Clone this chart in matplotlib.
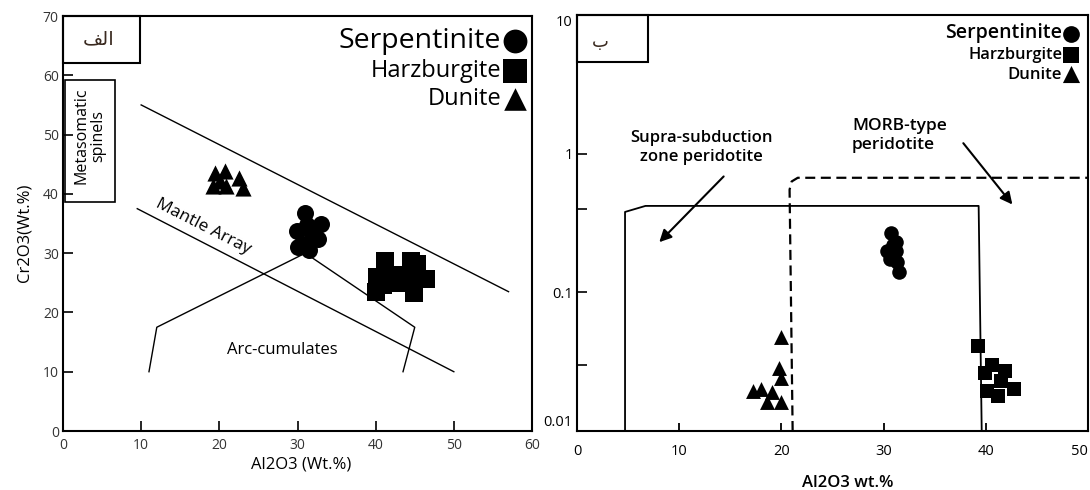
import matplotlib
matplotlib.use("Agg")
import matplotlib.pyplot as plt
from matplotlib.patches import Rectangle
import matplotlib.transforms as mtransforms

# ---------------- Panel الف : Cr2O3 vs Al2O3 (linear) ----------------
a_serp_al = [31.0, 33.0, 29.9, 31.9, 30.6, 31.5, 30.1, 32.6, 31.2]
a_serp_cr = [36.7, 35.0, 33.8, 33.2, 31.5, 30.5, 31.0, 32.4, 34.8]
a_harz_al = [41.2, 44.5, 45.3, 40.2, 42.2, 44.2, 46.4, 40.1, 44.9, 41.0, 43.0]
a_harz_cr = [28.6, 28.6, 28.2, 26.0, 26.3, 26.0, 25.6, 23.5, 23.3, 24.6, 25.0]
a_dun_al = [19.4, 20.7, 22.5, 19.2, 20.8, 23.0, 20.1]
a_dun_cr = [43.6, 43.9, 42.7, 41.3, 41.3, 41.0, 42.1]

mantle_upper_al = [10.0, 57.0]
mantle_upper_cr = [55.0, 23.5]
mantle_lower_al = [9.5, 50.0]
mantle_lower_cr = [37.5, 10.0]
arc_al = [11.0, 12.0, 31.0, 45.0, 43.5]
arc_cr = [10.0, 17.5, 30.0, 17.5, 10.0]
meta_al = [0.3, 6.6]
meta_cr = [38.7, 59.2]

a_xticks = [0, 10, 20, 30, 40, 50, 60]
a_yticks = [0, 10, 20, 30, 40, 50, 60, 70]

# ---------------- Panel ب : Cr2O3 (log) vs Al2O3 ----------------
b_serp_al = [30.7, 31.2, 30.3, 31.2, 30.6, 31.3, 31.5, 30.9]
b_serp_cr = [0.27, 0.23, 0.20, 0.20, 0.175, 0.165, 0.14, 0.22]
b_harz_al = [39.2, 40.6, 39.9, 41.9, 42.8, 41.2, 40.1, 41.5]
b_harz_cr = [0.041, 0.030, 0.026, 0.027, 0.020, 0.0178, 0.0193, 0.023]
b_dun_al = [20.0, 19.8, 20.0, 17.2, 18.0, 18.6, 20.0, 19.1]
b_dun_cr = [0.0475, 0.0286, 0.024, 0.0193, 0.020, 0.0163, 0.0163, 0.019]

ssz_al = [4.7, 4.7, 6.7, 39.3, 39.6]
ssz_cr = [0.01, 0.38, 0.42, 0.42, 0.01]
morb_al = [21.1, 20.8, 21.0, 21.6, 50.0]
morb_cr = [0.01, 0.55, 0.63, 0.67, 0.67]

b_xticks = [0, 10, 20, 30, 40, 50]
b_xticklabels = ["0", "10", "20", "30", "40", "50"]
b_yticks = [0.01, 0.1, 1, 10]
b_yticklabels = ["0.01", "0.1", "1", "10"]
b_yminor = [0.03, 0.4]

series_names = ["Serpentinite", "Harzburgite", "Dunite"]

plt.rcParams["font.family"] = ["Open Sans", "DejaVu Sans"]
fig = plt.figure(figsize=(10.9, 4.9), dpi=100)

# ================= Left axes =================
ax1 = fig.add_axes([63 / 1090, 1 - 431 / 490, (532 - 63) / 1090, (431 - 16) / 490])
ax1.set_xlim(0, 60)
ax1.set_ylim(0, 70)
for s in ax1.spines.values():
    s.set_linewidth(1.5)
ax1.set_xticks(a_xticks)
ax1.set_yticks(a_yticks)
ax1.tick_params(axis="x", direction="in", length=7, width=1.2, labelsize=10,
                labelcolor="#333333", pad=5)
ax1.tick_params(axis="y", direction="in", length=7, width=1.2, labelsize=10,
                labelcolor="#333333", pad=3)

kw_line = dict(color="black", lw=1.0)
ax1.plot(mantle_upper_al, mantle_upper_cr, **kw_line)
ax1.plot(mantle_lower_al, mantle_lower_cr, **kw_line)
ax1.plot(arc_al, arc_cr, **kw_line)
ax1.add_patch(Rectangle((meta_al[0], meta_cr[0]), meta_al[1] - meta_al[0],
                        meta_cr[1] - meta_cr[0], fill=False, ec="black", lw=1.2))
ax1.text((meta_al[0] + meta_al[1]) / 2, (meta_cr[0] + meta_cr[1]) / 2 + 0.8,
         "Metasomatic\nspinels", rotation=90, ha="center", va="center",
         fontsize=11.5, linespacing=1.0)
ax1.text(17.9, 34.4, "Mantle Array", rotation=-27, ha="center", va="center",
         fontsize=12.5, rotation_mode="anchor")
ax1.text(28.1, 13.6, "Arc-cumulates", ha="center", va="center", fontsize=12)

ax1.scatter(a_serp_al, a_serp_cr, marker="o", s=150, c="black", lw=0,
            label=series_names[0])
ax1.scatter(a_harz_al, a_harz_cr, marker="s", s=150, c="black", lw=0,
            label=series_names[1])
ax1.scatter(a_dun_al, a_dun_cr, marker="^", s=135, c="black", lw=0,
            label=series_names[2])

leg1 = ax1.legend(loc="upper right", bbox_to_anchor=(1.012, 1.0), frameon=False,
                  markerfirst=False, fontsize=17, handletextpad=0.05,
                  labelspacing=0.18, borderaxespad=0.2, markerscale=1.4,
                  handlelength=1.05, borderpad=0.25)
for t, fs in zip(leg1.get_texts(), [20.5, 17, 17]):
    t.set_fontsize(fs)

ax1.add_patch(Rectangle((0, 0.887), 0.164, 0.113, transform=ax1.transAxes,
                        fill=False, ec="black", lw=1.5, clip_on=False, zorder=5))
ax1.text(0.075, 0.945, "\uFED2\uFEDF\uFE8D", transform=ax1.transAxes,
         ha="center", va="center", fontsize=14, color="#3a2a20",
         family=["DejaVu Sans"])

ax1.set_xlabel("Al2O3 (Wt.%)", fontsize=12)
ax1.xaxis.set_label_coords(0.507, -0.062)
ax1.set_ylabel("Cr2O3(Wt.%)", fontsize=12)
ax1.yaxis.set_label_coords(-0.066, 0.477)

# ================= Right axes =================
ax2 = fig.add_axes([577 / 1090, 1 - 431 / 490, (1088 - 577) / 1090, (431 - 15) / 490])
ax2.set_yscale("log")
ax2.set_xlim(0, 50)
ax2.set_ylim(0.01, 10)
for s in ax2.spines.values():
    s.set_linewidth(1.5)
ax2.set_xticks(b_xticks)
ax2.set_xticklabels(b_xticklabels)
ax2.set_yticks(b_yticks)
ax2.set_yticklabels(b_yticklabels)
ax2.set_yticks(b_yminor, minor=True)
ax2.yaxis.set_minor_formatter(plt.NullFormatter())
ax2.tick_params(axis="x", direction="in", length=6, width=1.3, labelsize=10.5,
                pad=9)
ax2.tick_params(axis="y", which="both", direction="in", length=7, width=1.2,
                labelsize=10.5, pad=3)
ax2.get_xticklabels()[-1].set_ha("right")
yt = ax2.yaxis.get_major_ticks()
yt[0].label1.set_transform(yt[0].label1.get_transform() +
                           mtransforms.ScaledTranslation(0, 11 / 100, fig.dpi_scale_trans))
yt[-1].label1.set_va("top")

ax2.plot(ssz_al, ssz_cr, color="black", lw=1.3)
ax2.plot(morb_al, morb_cr, color="black", lw=1.6, ls=(0, (4.5, 2.5)))

ax2.annotate("", xy=(8.05, 0.23), xytext=(14.35, 0.685),
             arrowprops=dict(arrowstyle="-|>", color="black", lw=1.5,
                             mutation_scale=18, shrinkA=0, shrinkB=0))
ax2.annotate("", xy=(42.6, 0.43), xytext=(37.8, 1.19),
             arrowprops=dict(arrowstyle="-|>", color="black", lw=1.5,
                             mutation_scale=18, shrinkA=0, shrinkB=0))
ax2.text(12.2, 1.10, "Supra-subduction\nzone peridotite", ha="center",
         va="center", fontsize=12, fontweight="semibold", linespacing=1.25)
ax2.text(26.9, 1.35, "MORB-type\nperidotite", ha="left", va="center",
         fontsize=12.5, fontweight="semibold", linespacing=1.2)

ax2.scatter(b_serp_al, b_serp_cr, marker="o", s=110, c="black", lw=0,
            label=series_names[0])
ax2.scatter(b_harz_al, b_harz_cr, marker="s", s=105, c="black", lw=0,
            label=series_names[1])
ax2.scatter(b_dun_al, b_dun_cr, marker="^", s=115, c="black", lw=0,
            label=series_names[2])

leg2 = ax2.legend(loc="upper right", bbox_to_anchor=(1.0, 1.0), frameon=False,
                  markerfirst=False, handletextpad=0.05, labelspacing=0.22,
                  borderaxespad=0.2, markerscale=1.15, handlelength=1.0,
                  borderpad=0.3, prop=dict(size=12, weight="semibold"))
for t, fs in zip(leg2.get_texts(), [14, 11.8, 12]):
    t.set_fontsize(fs)

ax2.add_patch(Rectangle((0, 0.887), 0.139, 0.113, transform=ax2.transAxes,
                        fill=False, ec="black", lw=1.5, clip_on=False, zorder=5))
ax2.text(0.045, 0.935, "\u0628", transform=ax2.transAxes, ha="center",
         va="center", fontsize=13, color="#3a2a20", family=["DejaVu Sans"])

ax2.set_xlabel("Al2O3 wt.%", fontsize=12, fontweight="semibold")
ax2.xaxis.set_label_coords(0.53, -0.105)

fig.savefig("out.png", dpi=100)
